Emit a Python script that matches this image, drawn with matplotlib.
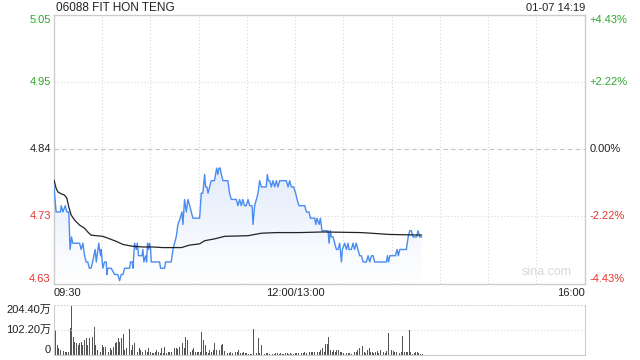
import matplotlib.pyplot as plt
import numpy as np
from matplotlib.colors import LinearSegmentedColormap

plt.rcParams["font.family"] = ["Liberation Sans", "Noto Sans CJK SC", "DejaVu Sans"]

# 06088 FIT HON TENG intraday, minutes since 09:30 (lunch break squeezed out)
TITLE = "06088 FIT HON TENG"
STAMP = "01-07 14:19"
PREV_CLOSE = 4.84
SESSION_MINUTES = 330

price_min = [
    0, 1.3, 4, 4.5, 5.5, 7, 8, 9.2, 10, 10.9,
    11.7, 15.9, 16.9, 18, 19, 20, 21, 22, 23, 24,
    24.8, 25.6, 26.3, 27.3, 27.9, 28.3, 29, 29.4, 30, 30.4,
    31.4, 32.5, 32.9, 33.5, 35.6, 37.7, 39.7, 40.8, 41.8, 42.9,
    43.9, 47, 47.6, 48.7, 49.1, 50.1, 51.2, 51.8, 52.6, 54.7,
    55.3, 55.9, 57, 57.6, 58.2, 58.8, 59.5, 60.1, 60.5, 65.7,
    66.3, 68.8, 69.4, 72.9, 74, 75, 76, 77.1, 78.5, 79.6,
    80.2, 81.2, 82.3, 83.3, 84.4, 85.4, 86.4, 90.6, 91.6, 92.6,
    93.7, 94.3, 95.1, 95.8, 96.8, 97.8, 99.8, 100.5, 101.2, 101.9,
    102.6, 103.4, 104.1, 105.1, 108.2, 109.2, 110.3, 113.4, 114.4, 115.5,
    116.5, 117.5, 118.5, 119.6, 120.7, 121.7, 123.2, 123.8, 124.8, 125.9,
    126.9, 127.9, 129, 131, 132, 132.7, 133.4, 134.2, 135.2, 136.2,
    137.3, 138.3, 139.3, 140.4, 144.5, 145.6, 146.6, 147.6, 149.1, 150.3,
    151.2, 152.4, 156, 157, 158.6, 159.5, 162.2, 162.8, 163.6, 164.9,
    165.7, 166.7, 170.5, 171.1, 171.9, 172.5, 173.6, 174.6, 175.7, 176.7,
    177.7, 178.8, 179.4, 180.8, 181.9, 182.9, 183.5, 185, 186, 187,
    188, 189.1, 190.1, 191.2, 192.3, 194.3, 195.4, 196.4, 197.5, 198.5,
    199.5, 206.8, 207.4, 208.1, 208.9, 209.9, 210.5, 211.3, 212.4, 213.4,
    214.2, 215.1, 219.2, 220.3, 221.3, 222.3, 223.4, 224.4, 225.5, 226.5,
    227.5, 228.6,
]
price_px = [
    4.78, 4.74, 4.74, 4.75, 4.74, 4.75, 4.74, 4.74, 4.68, 4.70,
    4.69, 4.69, 4.68, 4.69, 4.67, 4.66, 4.66, 4.65, 4.65, 4.66,
    4.67, 4.68, 4.66, 4.68, 4.69, 4.68, 4.67, 4.68, 4.66, 4.65,
    4.66, 4.66, 4.64, 4.65, 4.65, 4.64, 4.64, 4.63, 4.64, 4.64,
    4.65, 4.65, 4.66, 4.66, 4.65, 4.69, 4.68, 4.69, 4.67, 4.67,
    4.68, 4.66, 4.67, 4.66, 4.69, 4.68, 4.69, 4.68, 4.66, 4.66,
    4.65, 4.65, 4.66, 4.66, 4.68, 4.69, 4.70, 4.72, 4.73, 4.74,
    4.72, 4.76, 4.74, 4.76, 4.75, 4.74, 4.73, 4.73, 4.77, 4.77,
    4.80, 4.78, 4.78, 4.77, 4.78, 4.79, 4.79, 4.80, 4.81, 4.80,
    4.81, 4.81, 4.80, 4.79, 4.79, 4.77, 4.76, 4.76, 4.75, 4.76,
    4.75, 4.76, 4.75, 4.75, 4.76, 4.75, 4.75, 4.72, 4.75, 4.76,
    4.77, 4.79, 4.78, 4.78, 4.78, 4.80, 4.79, 4.79, 4.78, 4.79,
    4.78, 4.79, 4.78, 4.79, 4.79, 4.78, 4.79, 4.78, 4.78, 4.77,
    4.76, 4.75, 4.75, 4.74, 4.74, 4.73, 4.73, 4.72, 4.73, 4.72,
    4.73, 4.71, 4.71, 4.69, 4.71, 4.70, 4.70, 4.69, 4.68, 4.68,
    4.69, 4.66, 4.68, 4.69, 4.68, 4.69, 4.68, 4.68, 4.69, 4.68,
    4.69, 4.68, 4.67, 4.67, 4.66, 4.66, 4.67, 4.66, 4.67, 4.67,
    4.66, 4.66, 4.67, 4.66, 4.67, 4.67, 4.67, 4.67, 4.67, 4.68,
    4.67, 4.68, 4.68, 4.70, 4.71, 4.71, 4.70, 4.70, 4.70, 4.71,
    4.70, 4.70,
]

avg_min = [
    0, 1.3, 2.4, 4.5, 6.5, 8, 9.2, 10.7, 12.8, 15.9,
    19, 21, 23, 26.3, 30.4, 34.6, 38.7, 42.9, 49.1, 55.3,
    61.5, 67.8, 72.9, 79.2, 84.4, 90.6, 93.7, 100, 106.1, 120.7,
    129, 138.3, 152.8, 167.4, 191.2, 208.9, 228.6,
]
avg_px = [
    4.791, 4.778, 4.772, 4.769, 4.767, 4.762, 4.748, 4.735, 4.727, 4.719,
    4.714, 4.708, 4.703, 4.702, 4.701, 4.697, 4.693, 4.688, 4.685, 4.684,
    4.684, 4.683, 4.683, 4.683, 4.687, 4.689, 4.694, 4.697, 4.701, 4.702,
    4.706, 4.707, 4.707, 4.708, 4.707, 4.704, 4.703,
]

# volume per minute, in 万 shares
volume = [
    92, 103, 42, 31, 22, 18, 16, 15, 14, 15,
    110, 204, 76, 55, 49, 42, 49, 55, 42, 62,
    69, 42, 72, 69, 76, 114, 42, 22, 15, 15,
    42, 35, 35, 28, 15, 28, 22, 35, 49, 55,
    69, 55, 72, 85, 22, 28, 35, 106, 22, 42,
    49, 15, 15, 28, 22, 15, 15, 22, 15, 28,
    15, 8, 8, 15, 22, 15, 8, 28, 8, 35,
    8, 15, 15, 15, 116, 28, 28, 26, 35, 42,
    49, 28, 76, 62, 35, 15, 22, 28, 15, 15,
    15, 15, 93, 62, 42, 15, 8, 22, 15, 22,
    49, 22, 35, 22, 42, 45, 18, 15, 8, 10,
    12, 8, 8, 12, 15, 22, 8, 8, 12, 8,
    8, 5, 6, 5, 106, 92, 8, 69, 8, 42,
    6, 5, 8, 10, 6, 8, 5, 6, 8, 10,
    6, 8, 5, 6, 8, 10, 6, 8, 5, 6,
    8, 10, 8, 12, 8, 10, 12, 8, 15, 15,
    12, 15, 12, 12, 15, 15, 22, 28, 15, 45,
    45, 73, 22, 15, 22, 12, 22, 22, 15, 15,
    10, 26, 10, 8, 8, 6, 8, 12, 15, 22,
    28, 22, 38, 15, 10, 22, 30, 15, 12, 8,
    15, 18, 8, 22, 15, 12, 8, 18, 89, 58,
    22, 18, 12, 12, 8, 8, 12, 80, 12, 15,
    15, 104, 12, 6, 8, 12, 15, 8, 5, 4,
]
VOL_MAX = 204.40

pct_levels = [4.43, 2.215, 0.0, -2.215, -4.43]
price_labels = ["5.05", "4.95", "4.84", "4.73", "4.63"]
pct_labels = ["+4.43%", "+2.22%", "0.00%", "-2.22%", "-4.43%"]
time_ticks = [0, 150, 330]
time_labels = ["09:30", "12:00/13:00", "16:00"]

GREEN = "#2aa82a"
RED = "#e8332e"
DARK = "#222222"
EDGE = "#cccccc"
GRID = "#d9d9d9"


def level_color(pct):
    if pct > 0:
        return GREEN
    if pct < 0:
        return RED
    return DARK


def main():
    fig = plt.figure(figsize=(6.4, 3.6), dpi=100)
    ax = fig.add_axes([54 / 640, 1 - 283.5 / 360, 530.5 / 640, 268.2 / 360])
    vax = fig.add_axes([54 / 640, 1 - 355.3 / 360, 530.5 / 640, 50.3 / 360])

    levels = [PREV_CLOSE * (1 + p / 100) for p in pct_levels]
    y_hi, y_lo = levels[0], levels[-1]

    # price area with a soft fade to white
    fill = ax.fill_between(price_min, price_px, y_lo, color="none", lw=0)
    fade = LinearSegmentedColormap.from_list("fade", ["#ffffff", "#e3ecfb"])
    grad = np.linspace(1, 0, 256).reshape(-1, 1)
    img = ax.imshow(grad, extent=[0, max(price_min), y_lo, max(price_px)],
                    origin="upper", aspect="auto", cmap=fade, zorder=1)
    img.set_clip_path(fill.get_paths()[0], transform=ax.transData)

    ax.plot(price_min, price_px, color="#4a8cf0", lw=1.0, zorder=3)
    ax.plot(avg_min, avg_px, color="#222222", lw=0.9, zorder=4)

    ax.set_xlim(0, SESSION_MINUTES)
    ax.set_ylim(y_lo, y_hi)
    for m in range(30, SESSION_MINUTES, 30):
        ax.axvline(m, color=GRID, lw=0.8, ls=(0, (1, 2)), zorder=0)
    for lv, p in zip(levels[1:-1], pct_levels[1:-1]):
        if p == 0:
            ax.axhline(lv, color="#c4c4c4", lw=0.8, ls=(0, (4, 3)), zorder=0)
        else:
            ax.axhline(lv, color=GRID, lw=0.8, ls=(0, (1, 2)), zorder=0)

    ax.set_xticks([])
    ax.set_yticks([])
    for s in ax.spines.values():
        s.set_color(EDGE)
        s.set_linewidth(1.0)

    tr = ax.get_yaxis_transform()
    for i, (lv, p) in enumerate(zip(levels, pct_levels)):
        va = "top" if i == 0 else ("bottom" if i == len(levels) - 1 else "center")
        c = level_color(p)
        ax.text(-0.006, lv, price_labels[i], transform=tr, ha="right", va=va,
                color=c, fontsize=8)
        ax.text(1.01, lv, pct_labels[i], transform=tr, ha="left", va=va,
                color=c, fontsize=8)

    xtr = ax.get_xaxis_transform()
    aligns = ["left", "center", "right"]
    for t, lab, ha in zip(time_ticks, time_labels, aligns):
        ax.text(t, -0.017, lab, transform=xtr, ha=ha, va="top", color=DARK, fontsize=8)

    ax.text(0.975, 0.02, "sina.com", transform=ax.transAxes, ha="right", va="bottom",
            color="#d8d8d8", fontsize=9)

    fig.text(56 / 640, 1 - 8 / 360, TITLE, ha="left", va="center", color=DARK, fontsize=8.5)
    fig.text(585 / 640, 1 - 8 / 360, STAMP, ha="right", va="center", color=DARK, fontsize=8)

    # volume panel
    vx = np.arange(len(volume))
    vax.bar(vx, volume, width=0.55, color="#555555", linewidth=0, align="center")
    vax.set_xlim(0, SESSION_MINUTES)
    vax.set_ylim(0, VOL_MAX)
    vax.set_xticks([])
    vax.set_yticks([])
    vax.axhline(VOL_MAX / 2, color=GRID, lw=0.8, ls=(0, (1, 2)))
    for side in ["left", "right", "bottom"]:
        vax.spines[side].set_color(EDGE)
    vax.spines["top"].set_color(GRID)
    vax.spines["top"].set_linestyle((0, (1, 2)))
    vtr = vax.get_yaxis_transform()
    vax.text(-0.006, VOL_MAX, f"{VOL_MAX:.2f}万", transform=vtr, ha="right", va="top",
             color=DARK, fontsize=8)
    vax.text(-0.006, VOL_MAX / 2, f"{VOL_MAX / 2:.2f}万", transform=vtr, ha="right",
             va="center", color=DARK, fontsize=8)
    vax.text(-0.006, 0, "0", transform=vtr, ha="right", va="bottom", color=DARK, fontsize=8)

    fig.savefig("out.png", dpi=100)


if __name__ == "__main__":
    main()
